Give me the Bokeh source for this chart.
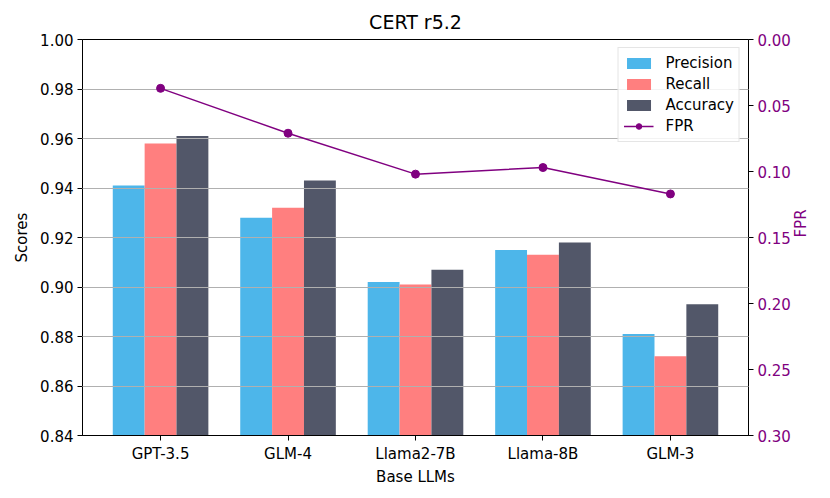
import math
from bokeh.plotting import figure
from bokeh.models import (ColumnDataSource, Range1d, LinearAxis, FixedTicker,
                          NumeralTickFormatter, Legend)
from bokeh.transform import dodge
from bokeh.embed import file_html
from bokeh.resources import INLINE

# ---- data ----
models = ["GPT-3.5", "GLM-4", "Llama2-7B", "Llama-8B", "GLM-3"]
precision = [0.941, 0.928, 0.902, 0.915, 0.881]
recall = [0.958, 0.932, 0.901, 0.913, 0.872]
accuracy = [0.961, 0.943, 0.907, 0.918, 0.893]
fpr = [0.037, 0.071, 0.102, 0.097, 0.117]
score_ticks = [0.84, 0.86, 0.88, 0.90, 0.92, 0.94, 0.96, 0.98, 1.00]
fpr_ticks = [0.00, 0.05, 0.10, 0.15, 0.20, 0.25, 0.30]

FONT = "DejaVu Sans"
PURPLE = "#800080"
C_PREC = "#4DB6EA"
C_REC = "#FF7F7F"
C_ACC = "#525769"

xs = list(range(len(models)))
src = ColumnDataSource(dict(x=xs, precision=precision, recall=recall,
                            accuracy=accuracy, fpr=fpr))

p = figure(width=822, height=490, output_backend="svg", toolbar_location=None,
           x_range=Range1d(-0.6125, len(models) - 1 + 0.6125),
           y_range=Range1d(0.84, 1.00),
           min_border_left=82, min_border_right=74,
           min_border_top=39, min_border_bottom=55)
p.extra_y_ranges = {"fpr": Range1d(start=0.30, end=0.0)}

p.title.text = "CERT r5.2"
p.title.align = "center"
p.title.vertical_align = "top"
p.title.text_font = FONT
p.title.text_font_size = "19px"
p.title.text_font_style = "normal"
p.title.text_color = "black"
p.title.standoff = 10
p.title.offset = 0
p.title.text_line_height = 1.0

w = 0.25
r1 = p.vbar(x=dodge("x", -w, range=p.x_range), top="precision", bottom=0.84,
            width=w, source=src, fill_color=C_PREC, line_color=None)
r2 = p.vbar(x=dodge("x", 0, range=p.x_range), top="recall", bottom=0.84,
            width=w, source=src, fill_color=C_REC, line_color=None)
r3 = p.vbar(x=dodge("x", w, range=p.x_range), top="accuracy", bottom=0.84,
            width=w, source=src, fill_color=C_ACC, line_color=None)

rl = p.line(x="x", y="fpr", source=src, y_range_name="fpr",
            line_color=PURPLE, line_width=1.5, level="annotation")
rs = p.scatter(x="x", y="fpr", source=src, y_range_name="fpr",
               fill_color=PURPLE, line_color=PURPLE, size=8, level="annotation")

legend = Legend(items=[("Precision", [r1]), ("Recall", [r2]),
                       ("Accuracy", [r3]), ("FPR", [rl, rs])],
                location="top_right", margin=8, padding=5, spacing=1,
                glyph_width=30, glyph_height=14, label_standoff=12,
                label_height=20, label_text_font=FONT,
                label_text_font_size="15px", label_text_color="black",
                border_line_color="#cccccc", border_line_width=1,
                background_fill_alpha=0.85)
p.add_layout(legend, "center")

# axes
score_ticker = FixedTicker(ticks=score_ticks)
p.yaxis.ticker = score_ticker
p.ygrid.ticker = score_ticker
p.yaxis.formatter = NumeralTickFormatter(format="0.00")
p.yaxis.axis_label = "Scores"

p.xaxis.ticker = FixedTicker(ticks=xs)
p.xaxis.major_label_overrides = {i: m for i, m in enumerate(models)}
p.xaxis.axis_label = "Base LLMs"

right = LinearAxis(y_range_name="fpr", ticker=FixedTicker(ticks=fpr_ticks),
                   formatter=NumeralTickFormatter(format="0.00"),
                   axis_label="FPR")
p.add_layout(right, "right")

for ax in [p.xaxis[0], p.yaxis[0], right]:
    ax.major_label_text_font = FONT
    ax.major_label_text_font_size = "15px"
    ax.major_label_text_color = "black"
    ax.axis_label_text_font = FONT
    ax.axis_label_text_font_size = "15px"
    ax.axis_label_text_font_style = "normal"
    ax.axis_label_text_color = "black"
    ax.minor_tick_line_color = None
    ax.major_tick_in = 0
    ax.major_tick_out = 5
    ax.axis_line_color = "black"
    ax.major_tick_line_color = "black"
    ax.axis_label_standoff = 6
    ax.major_label_standoff = 4

right.major_label_text_color = PURPLE
right.axis_label_text_color = PURPLE
right.axis_label_orientation = math.pi / 2
right.axis_label_standoff = 7
p.xaxis.axis_label_standoff = 2

p.xgrid.visible = False
p.ygrid.grid_line_color = "#b0b0b0"
p.ygrid.grid_line_width = 1
p.ygrid.level = "guide"

p.outline_line_color = "black"
p.outline_line_width = 1
p.background_fill_color = "white"
p.border_fill_color = "white"

open("out.html", "w").write(file_html(p, INLINE))
